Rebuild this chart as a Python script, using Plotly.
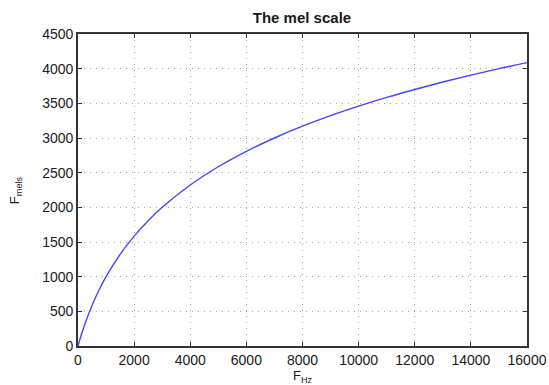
import plotly.graph_objects as go

# Values
freq_hz = [0, 100, 250, 500, 750, 1000, 1500, 2000, 2500, 3000, 4000, 5000, 6000,
           7000, 8000, 9000, 10000, 11000, 12000, 13000, 14000, 15000, 16000]
mels = [0, 137, 322, 585, 807, 1000, 1322, 1585, 1807, 2000, 2322, 2585, 2807,
        3000, 3170, 3322, 3459, 3585, 3700, 3807, 3907, 4000, 4087]
x_ticks = [0, 2000, 4000, 6000, 8000, 10000, 12000, 14000, 16000]
x_tick_labels = ["0", "2000", "4000", "6000", "8000", "10000", "12000", "14000", "16000"]
y_ticks = [0, 500, 1000, 1500, 2000, 2500, 3000, 3500, 4000, 4500]
y_tick_labels = ["0", "500", "1000", "1500", "2000", "2500", "3000", "3500", "4000", "4500"]

FONT = "Liberation Sans, Arial"

fig = go.Figure()
fig.add_trace(go.Scatter(x=freq_hz, y=mels, mode="lines", line_shape="spline",
                         line=dict(color="#4545ff", width=1.4), showlegend=False))

axis_common = dict(showline=True, linecolor="#333", linewidth=1.6, mirror="ticks",
                   ticks="inside", ticklen=4, tickcolor="#333", tickwidth=1,
                   showgrid=True, gridcolor="#a0a0a0", griddash="1px,5px", gridwidth=1,
                   zeroline=False, automargin=False,
                   tickfont=dict(family=FONT, size=14, color="#1a1a1a"))

fig.update_xaxes(range=[0, 16000], tickvals=x_ticks, ticktext=x_tick_labels, **axis_common)
fig.update_yaxes(range=[0, 4500], tickvals=y_ticks, ticktext=y_tick_labels, **axis_common)

fig.update_layout(
    width=549, height=385,
    margin=dict(l=78, r=22, t=34, b=39),
    paper_bgcolor="white", plot_bgcolor="white",
    title=dict(text="<b>The mel scale</b>", x=0.55, xanchor="center", y=0.955, yanchor="middle",
               font=dict(family=FONT, size=15, color="#1a1a1a")),
    annotations=[
        dict(text="F<sub>Hz</sub>", x=0.5, xref="paper", y=-0.065, yref="paper",
             xanchor="center", yanchor="top", showarrow=False,
             font=dict(family=FONT, size=13, color="#1a1a1a")),
        dict(text="F<sub>mels</sub>", x=-0.14, xref="paper", y=0.5, yref="paper",
             xanchor="center", yanchor="middle", showarrow=False, textangle=-90,
             font=dict(family=FONT, size=13, color="#1a1a1a")),
    ],
)

fig.write_html("out.html")
